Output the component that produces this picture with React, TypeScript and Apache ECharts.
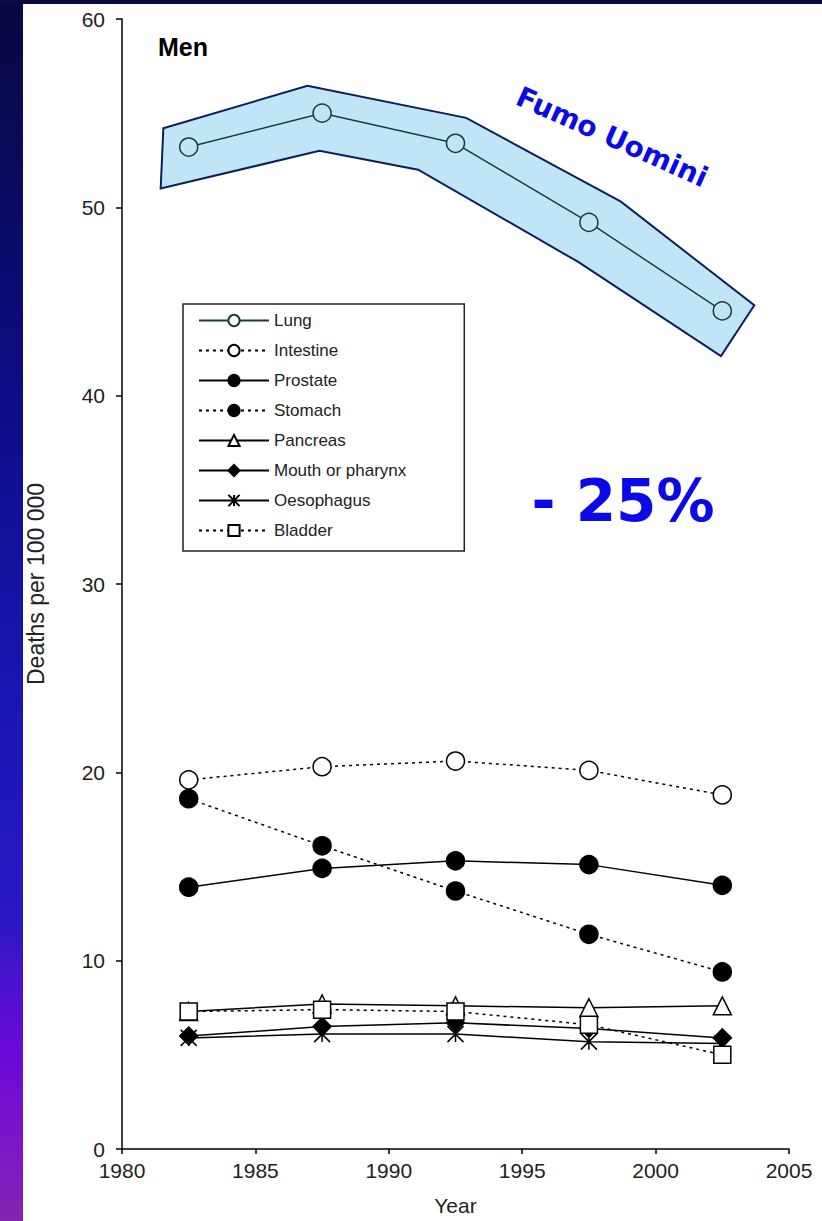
import React, { useEffect, useRef } from "react";
import * as echarts from "echarts";

const years = [1982.5, 1987.5, 1992.5, 1997.5, 2002.5];
const lung = [53.2, 55.0, 53.4, 49.2, 44.5];
const intestine = [19.6, 20.3, 20.6, 20.1, 18.8];
const prostate = [13.9, 14.9, 15.3, 15.1, 14.0];
const stomach = [18.6, 16.1, 13.7, 11.4, 9.4];
const pancreas = [7.3, 7.7, 7.6, 7.5, 7.6];
const mouth = [6.0, 6.5, 6.7, 6.4, 5.9];
const oesophagus = [5.9, 6.1, 6.1, 5.7, 5.6];
const bladder = [7.3, 7.4, 7.3, 6.6, 5.0];

// shaded band around the Lung series (annotation), in data units
const bandUpperX = [1981.55, 1986.95, 1992.9, 1998.7, 2003.7];
const bandUpperY = [54.2, 56.45, 54.75, 50.3, 44.8];
const bandLowerX = [2002.45, 1997.1, 1991.1, 1987.4, 1981.45];
const bandLowerY = [42.1, 47.1, 52.0, 53.0, 51.0];

const legendNames = ["Lung", "Intestine", "Prostate", "Stomach", "Pancreas", "Mouth or pharynx", "Oesophagus", "Bladder"];
const xTicks = [1980, 2005, 5];
const yTicks = [0, 60, 10];

const ASTERISK = "path://M0,0L10,10M10,0L0,10M5,0L5,10";

export default function App() {
  const ref = useRef<HTMLDivElement>(null);
  useEffect(() => {
    if (!ref.current) return;
    const chart = echarts.init(ref.current, null, { renderer: "svg" });
    const font = "Liberation Sans, Arial, sans-serif";
    const mk = (name: string, vals: number[], symbol: string, fill: string, dashed: boolean, z: number, size = 18) => ({
      type: "line",
      name,
      data: years.map((y, i) => [y, vals[i]]),
      symbol,
      symbolSize: size,
      showSymbol: true,
      silent: true,
      z,
      lineStyle: { color: "#000", width: 1.5, type: dashed ? [3, 4] : "solid" },
      itemStyle: { color: fill, borderColor: "#000", borderWidth: 1.5 },
      emphasis: { disabled: true },
    });
    const band = {
      type: "custom",
      name: "band",
      silent: true,
      z: 1,
      data: [[0]],
      renderItem: (_p: any, api: any) => {
        const pts: number[][] = [];
        bandUpperX.forEach((x, i) => pts.push(api.coord([x, bandUpperY[i]])));
        bandLowerX.forEach((x, i) => pts.push(api.coord([x, bandLowerY[i]])));
        return {
          type: "polygon",
          shape: { points: pts },
          style: { fill: "#bfe5f7", stroke: "#0b1f5c", lineWidth: 2 },
        };
      },
    };
    const lungSeries: any = mk("Lung", lung, "circle", "#bfe5f7", false, 3, 18);
    lungSeries.lineStyle.color = "#1f3a3a";
    lungSeries.itemStyle.borderColor = "#1f3a3a";
    chart.setOption({
      animation: false,
      grid: { left: 122, top: 19, right: 33, bottom: 68 },
      title: {
        text: "Men",
        left: 158,
        top: 34,
        padding: 0,
        textStyle: { fontSize: 25, fontWeight: "bold", color: "#000", fontFamily: font },
      },
      legend: {
        orient: "vertical",
        left: 183,
        top: 304,
        padding: [8, 58, 12, 15],
        itemWidth: 70,
        itemHeight: 14,
        itemGap: 13,
        borderColor: "#222",
        borderWidth: 1.5,
        selectedMode: false,
        textStyle: { fontSize: 17, color: "#222", fontFamily: font, lineHeight: 17 },
        data: legendNames.map((n) => (n === "Lung" ? { name: n, itemStyle: { color: "#fff" } } : { name: n })),
      },
      xAxis: {
        type: "value",
        min: xTicks[0],
        max: xTicks[1],
        interval: xTicks[2],
        name: "Year",
        nameLocation: "middle",
        nameGap: 46,
        nameTextStyle: { fontSize: 21, color: "#222", fontFamily: font },
        axisLine: { show: true, lineStyle: { color: "#000", width: 1.5 } },
        axisTick: { show: true, length: 5, lineStyle: { color: "#000", width: 1.5 } },
        axisLabel: { fontSize: 21, color: "#222", margin: 11, fontFamily: font, formatter: (v: number) => String(v) },
        splitLine: { show: false },
      },
      yAxis: {
        type: "value",
        min: yTicks[0],
        max: yTicks[1],
        interval: yTicks[2],
        name: "Deaths per 100 000",
        nameLocation: "middle",
        nameGap: 75,
        nameTextStyle: { fontSize: 23, color: "#222", fontFamily: font },
        axisLine: { show: true, lineStyle: { color: "#000", width: 1.5 } },
        axisTick: { show: true, length: 6, lineStyle: { color: "#000", width: 1.5 } },
        axisLabel: { fontSize: 21, color: "#222", margin: 17, fontFamily: font },
        splitLine: { show: false },
      },
      graphic: [
        {
          type: "rect",
          shape: { x: 0, y: 0, width: 23, height: 1221 },
          style: {
            fill: new echarts.graphic.LinearGradient(0, 0, 0, 1, [
              { offset: 0, color: "#080840" },
              { offset: 0.3, color: "#0c0c80" },
              { offset: 0.55, color: "#1616b0" },
              { offset: 0.75, color: "#2a18c4" },
              { offset: 0.86, color: "#6a0ad8" },
              { offset: 0.92, color: "#7a12cc" },
              { offset: 1, color: "#8424b0" },
            ]),
          },
          silent: true,
        },
        { type: "rect", shape: { x: 0, y: 0, width: 822, height: 4 }, style: { fill: "#0a0a48" }, silent: true },
        {
          type: "text",
          x: 612,
          y: 137,
          rotation: (-24 * Math.PI) / 180,
          style: {
            text: "Fumo Uomini",
            fill: "#0a0ae8",
            font: "bold 28px 'DejaVu Sans'",
            align: "center",
            verticalAlign: "middle",
          },
          silent: true,
        },
        {
          type: "text",
          x: 623,
          y: 501,
          style: {
            text: "- 25%",
            fill: "#0a0ae8",
            font: "bold 58px 'DejaVu Sans'",
            align: "center",
            verticalAlign: "middle",
          },
          silent: true,
        },
      ],
      series: [
        band,
        lungSeries,
        mk("Intestine", intestine, "circle", "#fff", true, 3),
        mk("Prostate", prostate, "circle", "#000", false, 3),
        mk("Stomach", stomach, "circle", "#000", true, 3),
        mk("Pancreas", pancreas, "triangle", "#fff", false, 3),
        mk("Mouth or pharynx", mouth, "diamond", "#000", false, 3),
        mk("Oesophagus", oesophagus, ASTERISK, "rgba(0,0,0,0)", false, 3, 16),
        mk("Bladder", bladder, "rect", "#fff", true, 4, 17),
      ],
    });
    return () => chart.dispose();
  }, []);
  return <div ref={ref} style={{ position: "absolute", left: 0, top: 0, width: 822, height: 1221, background: "#fff" }} />;
}
